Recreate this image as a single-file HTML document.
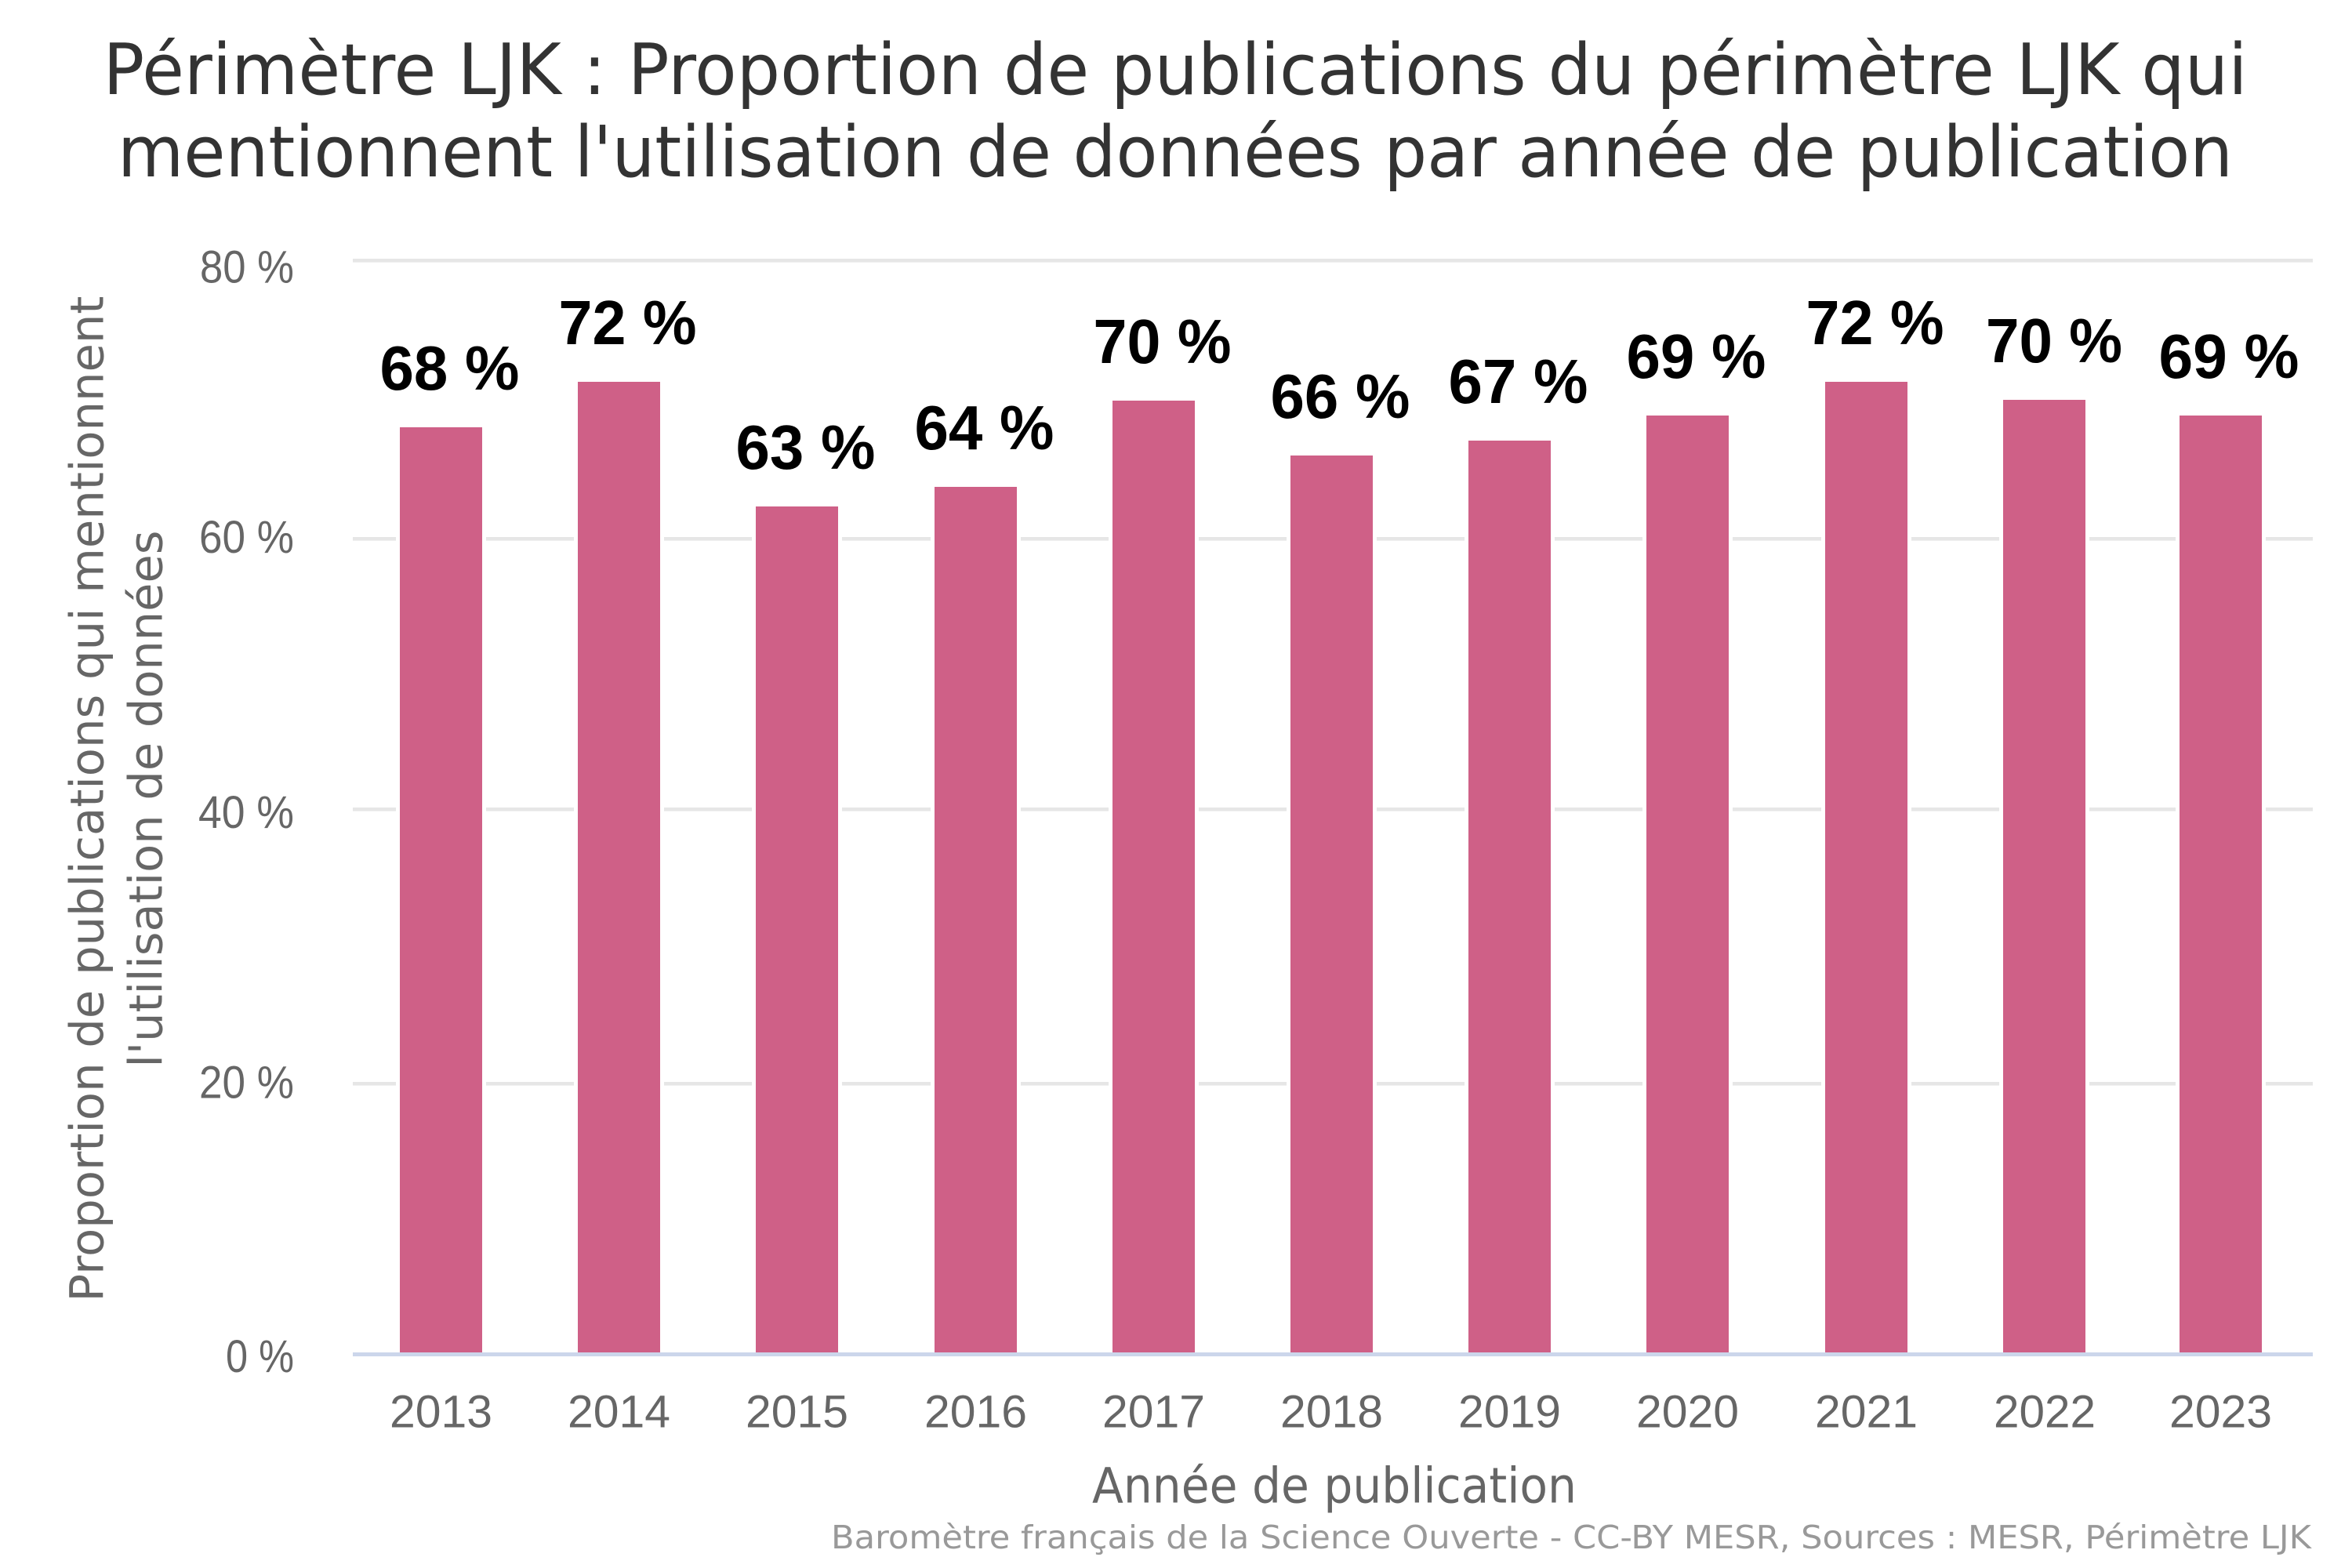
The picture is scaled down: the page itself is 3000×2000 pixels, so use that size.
<!DOCTYPE html>
<html>
<head>
<meta charset="utf-8">
<style>
  html,body{margin:0;padding:0;background:#fff;}
  svg{display:block;}
</style>
</head>
<body>
<svg width="3000" height="2000" viewBox="0 0 3000 2000" xmlns="http://www.w3.org/2000/svg">
  <rect x="0" y="0" width="3000" height="2000" fill="#ffffff"/>

  <!-- Title -->
  <g font-family="'DejaVu Sans', 'Liberation Sans', sans-serif" font-size="90" fill="#333333" text-anchor="middle">
    <text x="1499" y="120" textLength="2735" lengthAdjust="spacingAndGlyphs">Périmètre LJK : Proportion de publications du périmètre LJK qui</text>
    <text x="1499" y="225" textLength="2698" lengthAdjust="spacingAndGlyphs">mentionnent l'utilisation de données par année de publication</text>
  </g>

  <!-- Gridlines -->
  <g fill="#e6e6e6">
    <rect x="450" y="330" width="2500" height="4.6"/>
    <rect x="450" y="685" width="2500" height="4.6"/>
    <rect x="450" y="1030" width="2500" height="4.6"/>
    <rect x="450" y="1380" width="2500" height="4.6"/>
  </g>

  <!-- Bars with white border -->
  <g>
    <rect x="505" y="540" width="115" height="1190" fill="#fff"/>
    <rect x="510" y="545" width="105" height="1182" fill="#cf6087"/>

    <rect x="732" y="482" width="115" height="1248" fill="#fff"/>
    <rect x="737" y="487" width="105" height="1240" fill="#cf6087"/>

    <rect x="959" y="641" width="115" height="1089" fill="#fff"/>
    <rect x="964" y="646" width="105" height="1081" fill="#cf6087"/>

    <rect x="1187" y="616" width="115" height="1114" fill="#fff"/>
    <rect x="1192" y="621" width="105" height="1106" fill="#cf6087"/>

    <rect x="1414" y="506" width="115" height="1224" fill="#fff"/>
    <rect x="1419" y="511" width="105" height="1216" fill="#cf6087"/>

    <rect x="1641" y="576" width="115" height="1154" fill="#fff"/>
    <rect x="1646" y="581" width="105" height="1146" fill="#cf6087"/>

    <rect x="1868" y="557" width="115" height="1173" fill="#fff"/>
    <rect x="1873" y="562" width="105" height="1165" fill="#cf6087"/>

    <rect x="2095" y="525" width="115" height="1205" fill="#fff"/>
    <rect x="2100" y="530" width="105" height="1197" fill="#cf6087"/>

    <rect x="2323" y="482" width="115" height="1248" fill="#fff"/>
    <rect x="2328" y="487" width="105" height="1240" fill="#cf6087"/>

    <rect x="2550" y="505" width="115" height="1225" fill="#fff"/>
    <rect x="2555" y="510" width="105" height="1217" fill="#cf6087"/>

    <rect x="2775" y="525" width="115" height="1205" fill="#fff"/>
    <rect x="2780" y="530" width="105" height="1197" fill="#cf6087"/>
  </g>

  <!-- X axis line -->
  <rect x="450" y="1725" width="2500" height="5" fill="#ccd6eb"/>

  <!-- Data labels -->
  <g font-family="'Liberation Sans', 'DejaVu Sans', sans-serif" font-size="80" font-weight="bold" fill="#000000" text-anchor="middle">
    <text x="573.5" y="497" textLength="178" lengthAdjust="spacingAndGlyphs">68 %</text>
    <text x="800.5" y="439" textLength="176" lengthAdjust="spacingAndGlyphs">72 %</text>
    <text x="1027.5" y="598" textLength="178" lengthAdjust="spacingAndGlyphs">63 %</text>
    <text x="1255.5" y="573" textLength="178" lengthAdjust="spacingAndGlyphs">64 %</text>
    <text x="1482.5" y="463" textLength="176" lengthAdjust="spacingAndGlyphs">70 %</text>
    <text x="1709.5" y="533" textLength="178" lengthAdjust="spacingAndGlyphs">66 %</text>
    <text x="1936.5" y="514" textLength="178" lengthAdjust="spacingAndGlyphs">67 %</text>
    <text x="2163.5" y="482" textLength="178" lengthAdjust="spacingAndGlyphs">69 %</text>
    <text x="2391.5" y="439" textLength="176" lengthAdjust="spacingAndGlyphs">72 %</text>
    <text x="2620" y="462" textLength="174" lengthAdjust="spacingAndGlyphs">70 %</text>
    <text x="2843" y="482" textLength="179" lengthAdjust="spacingAndGlyphs">69 %</text>
  </g>

  <!-- Y tick labels -->
  <g font-family="'Liberation Sans', 'DejaVu Sans', sans-serif" font-size="58" fill="#666666" text-anchor="end">
    <text x="375" y="360.7" textLength="120" lengthAdjust="spacingAndGlyphs">80 %</text>
    <text x="375" y="705" textLength="121" lengthAdjust="spacingAndGlyphs">60 %</text>
    <text x="375" y="1056" textLength="122" lengthAdjust="spacingAndGlyphs">40 %</text>
    <text x="375" y="1400.7" textLength="121" lengthAdjust="spacingAndGlyphs">20 %</text>
    <text x="375" y="1750" textLength="87" lengthAdjust="spacingAndGlyphs">0 %</text>
  </g>

  <!-- X tick labels -->
  <g font-family="'Liberation Sans', 'DejaVu Sans', sans-serif" font-size="58" fill="#666666" text-anchor="middle">
    <text x="562.5" y="1820.7" textLength="131" lengthAdjust="spacingAndGlyphs">2013</text>
    <text x="789.5" y="1820.7" textLength="131" lengthAdjust="spacingAndGlyphs">2014</text>
    <text x="1016.5" y="1820.7" textLength="131" lengthAdjust="spacingAndGlyphs">2015</text>
    <text x="1244.5" y="1820.7" textLength="131" lengthAdjust="spacingAndGlyphs">2016</text>
    <text x="1471.5" y="1820.7" textLength="131" lengthAdjust="spacingAndGlyphs">2017</text>
    <text x="1698.5" y="1820.7" textLength="131" lengthAdjust="spacingAndGlyphs">2018</text>
    <text x="1925.5" y="1820.7" textLength="131" lengthAdjust="spacingAndGlyphs">2019</text>
    <text x="2152.5" y="1820.7" textLength="131" lengthAdjust="spacingAndGlyphs">2020</text>
    <text x="2380.5" y="1820.7" textLength="131" lengthAdjust="spacingAndGlyphs">2021</text>
    <text x="2608" y="1820.7" textLength="130" lengthAdjust="spacingAndGlyphs">2022</text>
    <text x="2832.5" y="1820.7" textLength="131" lengthAdjust="spacingAndGlyphs">2023</text>
  </g>

  <!-- X axis title -->
  <text x="1393" y="1916.7" font-family="'DejaVu Sans', 'Liberation Sans', sans-serif" font-size="62" fill="#666666" textLength="618" lengthAdjust="spacingAndGlyphs">Année de publication</text>

  <!-- Y axis title (rotated) -->
  <g font-family="'DejaVu Sans', 'Liberation Sans', sans-serif" font-size="59" fill="#666666" text-anchor="middle">
    <text transform="translate(131.7,1019) rotate(-90)" x="0" y="0" textLength="1283" lengthAdjust="spacingAndGlyphs">Proportion de publications qui mentionnent</text>
    <text transform="translate(206.7,1019) rotate(-90)" x="0" y="0" textLength="685" lengthAdjust="spacingAndGlyphs">l'utilisation de données</text>
  </g>

  <!-- Credits -->
  <text x="2948" y="1975" font-family="'DejaVu Sans', 'Liberation Sans', sans-serif" font-size="41" fill="#999999" text-anchor="end" textLength="1888" lengthAdjust="spacingAndGlyphs">Baromètre français de la Science Ouverte - CC-BY MESR, Sources : MESR, Périmètre LJK</text>
</svg>
</body>
</html>
